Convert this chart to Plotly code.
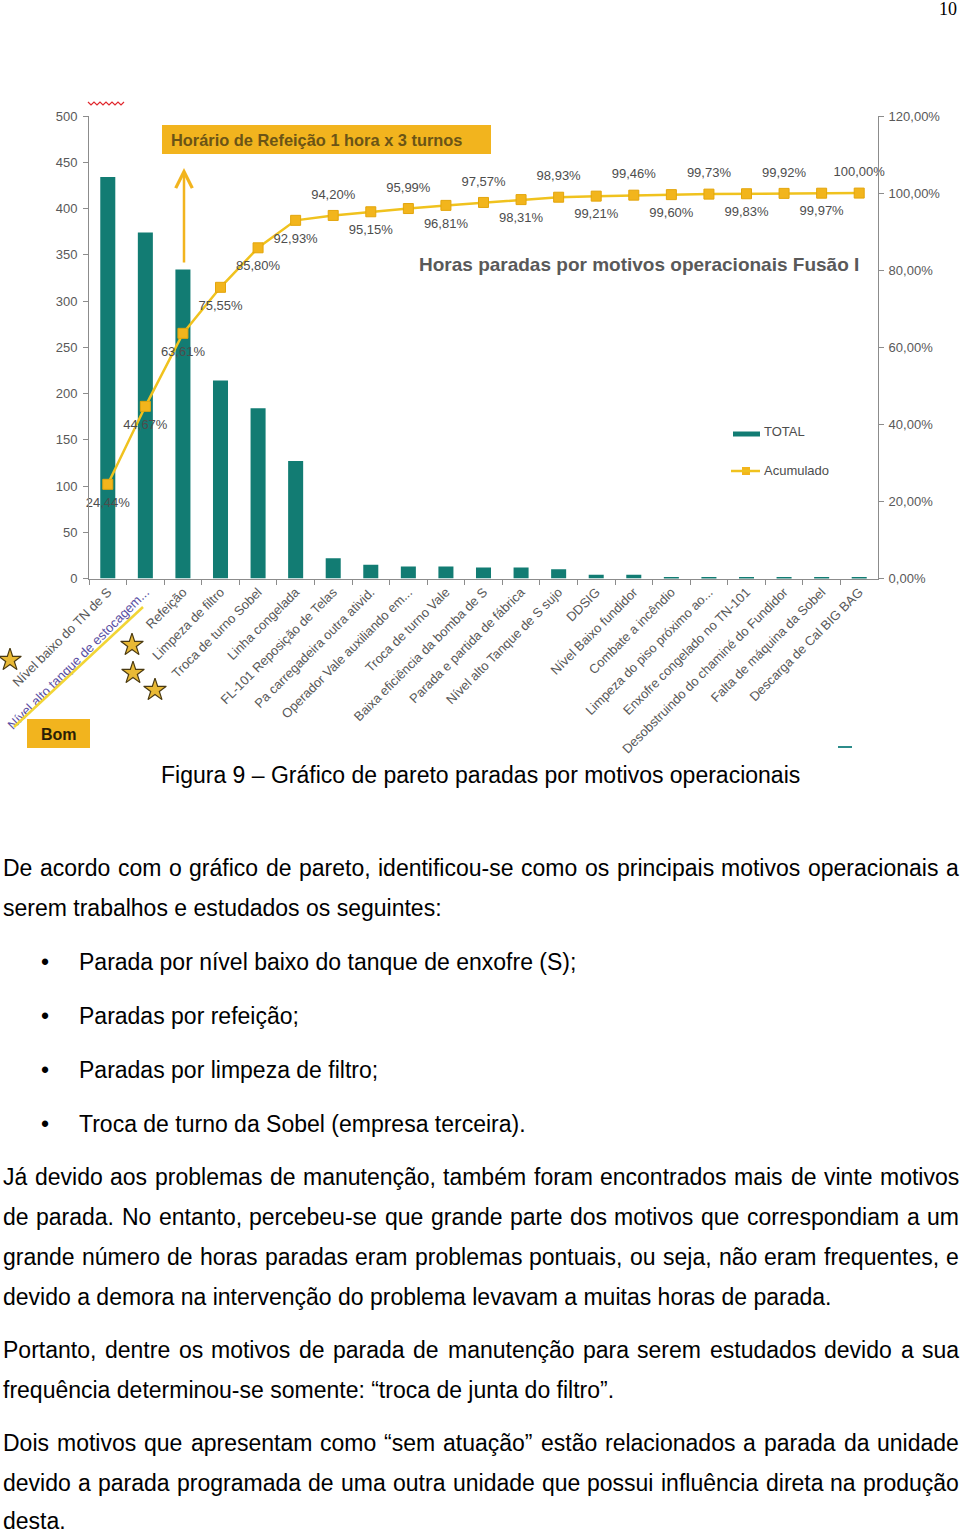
import plotly.graph_objects as go

# ---------------- data ----------------
categories = [
    "Nível baixo do TN de S", "Nível alto tanque de estocagem...", "Refeição",
    "Limpeza de filtro", "Troca de turno Sobel", "Linha congelada",
    "FL-101 Reposição de Telas", "Pa carregadeira outra ativid.",
    "Operador Vale auxiliando em...", "Troca de turno Vale",
    "Baixa eficiência da bomba de S", "Parada e partida de fábrica",
    "Nível alto Tanque de S sujo", "DDSIG", "Nível Baixo fundidor",
    "Combate a incêndio", "Limpeza do piso próximo ao...",
    "Enxofre congelado no TN-101", "Desobstruindo do chaminé do Fundidor",
    "Falta de máquina da Sobel", "Descarga de Cal BIG BAG",
]
total_hours = [434, 374, 334, 214, 184, 127, 22, 15, 13, 13, 12, 12, 10,
               4, 4, 1.2, 1.2, 1.2, 1.2, 1.2, 1.2]
accum_pct = [24.44, 44.67, 63.61, 75.55, 85.80, 92.93, 94.20, 95.15, 95.99,
             96.81, 97.57, 98.31, 98.93, 99.21, 99.46, 99.60, 99.73, 99.83,
             99.92, 99.97, 100.00]
accum_labels = ["24,44%", "44,67%", "63,61%", "75,55%", "85,80%", "92,93%",
                "94,20%", "95,15%", "95,99%", "96,81%", "97,57%", "98,31%",
                "98,93%", "99,21%", "99,46%", "99,60%", "99,73%", "99,83%",
                "99,92%", "99,97%", "100,00%"]
left_ticks = [0, 50, 100, 150, 200, 250, 300, 350, 400, 450, 500]
right_ticks = [0, 0.2, 0.4, 0.6, 0.8, 1.0, 1.2]

chart_title = "Horas paradas por motivos operacionais Fusão I"
callout_text = "Horário de Refeição 1 hora x 3 turnos"
legend_names = ["TOTAL", "Acumulado"]
caption = "Figura 9 – Gráfico de pareto paradas por motivos operacionais"
page_number = "10"

# body text: (text, justified, bullet)
body_lines = [
    ("De acordo com o gráfico de pareto, identificou-se como os principais motivos operacionais  a", True, False),
    ("serem trabalhos e estudados os seguintes:", False, False),
    ("Parada por nível baixo do tanque de enxofre (S);", False, True),
    ("Paradas por refeição;", False, True),
    ("Paradas por limpeza de filtro;", False, True),
    ("Troca de turno da Sobel (empresa terceira).", False, True),
    ("Já devido aos problemas de manutenção, também foram encontrados mais de vinte motivos", True, False),
    ("de parada. No entanto, percebeu-se que grande parte dos motivos que correspondiam a um", True, False),
    ("grande número de horas paradas eram problemas pontuais, ou seja, não eram frequentes, e", True, False),
    ("devido a demora na intervenção do problema levavam a muitas horas de parada.", False, False),
    ("Portanto, dentre os motivos de parada de manutenção para serem estudados devido a sua", True, False),
    ("frequência determinou-se somente: “troca de junta do filtro”.", False, False),
    ("Dois motivos que apresentam como “sem atuação” estão relacionados a parada da unidade", True, False),
    ("devido a parada programada de uma outra unidade que possui influência direta na produção", True, False),
    ("desta.", False, False),
]
body_y = [868, 908, 962, 1016, 1070, 1124, 1177, 1217, 1257, 1297,
          1350, 1390, 1443, 1483, 1521]

# ---------------- page geometry ----------------
PW, PH = 960, 1534
PX0, PX1 = 89, 878
PY_TOP, PY_BOT = 116, 578.5

TEAL = "#127C73"
GOLD = "#F2B51C"
LINE_Y = "#F0C21E"
GREY = "#595959"
FONT = "Liberation Sans, Arial, sans-serif"

def px(x):
    return x / PW

def py(y):
    return 1 - y / PH

# Arial / Liberation Sans advance widths (1/1000 em)
AW = {' ': 278, '!': 278, '"': 355, '%': 889, '(': 333, ')': 333, ',': 278,
      '-': 333, '.': 278, ':': 278, ';': 278, '•': 350, '–': 556, '“': 333, '”': 333}
for c in "0123456789":
    AW[c] = 556
low = dict(a=556, b=556, c=500, d=556, e=556, f=278, g=556, h=556, i=222, j=222,
           k=500, l=222, m=833, n=556, o=556, p=556, q=556, r=333, s=500, t=278,
           u=556, v=500, w=722, x=500, y=500, z=500)
up = dict(A=667, B=667, C=722, D=722, E=667, F=611, G=778, H=722, I=278, J=500,
          K=667, L=556, M=833, N=722, O=778, P=667, Q=778, R=722, S=667, T=611,
          U=722, V=667, W=944, X=667, Y=667, Z=611)
AW.update(low)
AW.update(up)
for c in "áàâãéêóôõúü":
    AW[c] = 556
AW['í'] = 278
AW['ç'] = 500

def tw(s, size):
    return sum(AW.get(ch, 556) for ch in s) * size / 1000.0

fig = go.Figure()

fig.add_trace(go.Bar(
    x=categories, y=total_hours, marker=dict(color=TEAL, line=dict(width=0)),
    width=0.4, name=legend_names[0], showlegend=False, xaxis="x", yaxis="y",
    hoverinfo="skip",
))

fig.add_trace(go.Scatter(
    x=categories, y=[v / 100 for v in accum_pct], mode="lines+markers",
    line=dict(color=LINE_Y, width=2.5),
    marker=dict(symbol="square", size=10, color=GOLD, line=dict(color="#E3A50C", width=1)),
    name=legend_names[1], showlegend=False, xaxis="x", yaxis="y2",
    cliponaxis=False, hoverinfo="skip",
))

# data labels: alternating below / above the points (offset in pixels -> y2 units)
Y2_PER_PX = 1.2 / (PY_BOT - PY_TOP)
below = [True] * 6 + [i % 2 == 1 for i in range(15)]
label_y = [v / 100 + (-19 if b else 20) * Y2_PER_PX for v, b in zip(accum_pct, below)]
fig.add_trace(go.Scatter(
    x=categories, y=label_y, mode="text", text=accum_labels,
    textposition="middle center",
    textfont=dict(family=FONT, size=13, color="#4d4d4d"),
    showlegend=False, xaxis="x", yaxis="y2", cliponaxis=False, hoverinfo="skip",
))

star_x = [10, 132, 133, 155]
star_y = [660, 645, 673, 690]
fig.add_trace(go.Scatter(
    x=star_x, y=star_y, mode="markers", xaxis="x3", yaxis="y3",
    marker=dict(symbol="star", size=17, color="#E9B935", line=dict(color="#4A3A12", width=1.2)),
    showlegend=False, hoverinfo="skip", cliponaxis=False,
))
fig.add_trace(go.Scatter(
    x=[746], y=[471], mode="markers", xaxis="x3", yaxis="y3",
    marker=dict(symbol="square", size=8, color=GOLD),
    showlegend=False, hoverinfo="skip", cliponaxis=False,
))

shapes = []
shapes.append(dict(type="rect", xref="x3", yref="y3", x0=162, x1=491, y0=125, y1=154,
                   fillcolor="#F2B41E", line=dict(width=0), layer="below"))
shapes.append(dict(type="rect", xref="x3", yref="y3", x0=27, x1=90, y0=719, y1=748,
                   fillcolor="#F2B41E", line=dict(width=0)))
shapes.append(dict(type="line", xref="x3", yref="y3", x0=14, y0=727, x1=143, y1=607,
                   line=dict(color="#F2D535", width=2.5)))
shapes.append(dict(type="line", xref="x3", yref="y3", x0=733, x1=760, y0=434, y1=434,
                   line=dict(color=TEAL, width=5)))
shapes.append(dict(type="line", xref="x3", yref="y3", x0=731, x1=760, y0=471, y1=471,
                   line=dict(color=LINE_Y, width=2.5)))
pts = []
for i, xx in enumerate(range(88, 126, 3)):
    pts.append(f"{xx},{103 + (2 if i % 2 else -1)}")
shapes.append(dict(type="path", xref="x3", yref="y3", path="M" + " L".join(pts),
                   line=dict(color="#E0282E", width=1.2)))
shapes.append(dict(type="line", xref="x3", yref="y3", x0=838, x1=852, y0=747, y1=747,
                   line=dict(color="#2C8C8A", width=2)))

annotations = []
annotations.append(dict(xref="x3", yref="y3", x=184, y=168, ax=184, ay=264,
                        axref="x3", ayref="y3", text="", showarrow=True,
                        arrowhead=5, arrowsize=1.3, arrowwidth=2.5, arrowcolor="#F2B41E"))
annotations.append(dict(xref="paper", yref="paper", x=px(170), y=py(140), xanchor="left",
                        yanchor="middle", text="<b>" + callout_text + "</b>", showarrow=False,
                        font=dict(family=FONT, size=16.4, color="#6B5416"), borderpad=0))
annotations.append(dict(xref="paper", yref="paper", x=px(58.5), y=py(734), xanchor="center",
                        yanchor="middle", text="<b>Bom</b>", showarrow=False,
                        font=dict(family=FONT, size=16, color="#2B1E05"), borderpad=0))
annotations.append(dict(xref="paper", yref="paper", x=px(418), y=py(265), xanchor="left",
                        yanchor="middle", text="<b>" + chart_title + "</b>", showarrow=False,
                        font=dict(family=FONT, size=19, color=GREY), borderpad=0))
annotations.append(dict(xref="paper", yref="paper", x=px(763), y=py(432), xanchor="left",
                        yanchor="middle", text=legend_names[0], showarrow=False,
                        font=dict(family=FONT, size=13, color="#4d4d4d"), borderpad=0))
annotations.append(dict(xref="paper", yref="paper", x=px(763), y=py(471), xanchor="left",
                        yanchor="middle", text=legend_names[1], showarrow=False,
                        font=dict(family=FONT, size=13, color="#4d4d4d"), borderpad=0))
annotations.append(dict(xref="paper", yref="paper", x=px(958), y=py(9), xanchor="right",
                        yanchor="middle", text=page_number, showarrow=False,
                        font=dict(family="Liberation Serif, Times New Roman, serif", size=18,
                                  color="#000"), borderpad=0))
BODY = 23
annotations.append(dict(xref="paper", yref="paper", x=px(480), y=py(775), xanchor="center",
                        yanchor="middle", text=caption, showarrow=False,
                        font=dict(family=FONT, size=BODY, color="#000"), borderpad=0))

LEFT, RIGHT = 2, 958
for (line, just, bullet), yy in zip(body_lines, body_y):
    if bullet:
        annotations.append(dict(xref="paper", yref="paper", x=px(45), y=py(yy),
                                xanchor="center", yanchor="middle", text="•", showarrow=False,
                                font=dict(family=FONT, size=BODY, color="#000"), borderpad=0))
        annotations.append(dict(xref="paper", yref="paper", x=px(78), y=py(yy),
                                xanchor="left", yanchor="middle", text=line, showarrow=False,
                                font=dict(family=FONT, size=BODY, color="#000"), borderpad=0))
    elif not just:
        annotations.append(dict(xref="paper", yref="paper", x=px(LEFT), y=py(yy),
                                xanchor="left", yanchor="middle", text=line, showarrow=False,
                                font=dict(family=FONT, size=BODY, color="#000"), borderpad=0))
    else:
        words = line.split()
        wsum = sum(tw(w, BODY) for w in words)
        gap = (RIGHT - LEFT - wsum) / (len(words) - 1)
        xx = LEFT
        for w in words:
            annotations.append(dict(xref="paper", yref="paper", x=px(xx), y=py(yy),
                                    xanchor="left", yanchor="middle", text=w, showarrow=False,
                                    font=dict(family=FONT, size=BODY, color="#000"), borderpad=0))
            xx += tw(w, BODY) + gap

ticktext = list(categories)
ticktext[1] = "<span style='color:#5A4FA3'>" + categories[1] + "</span>"

axis_common = dict(showgrid=False, zeroline=False, showline=True, linecolor="#8c8c8c",
                   linewidth=1, ticks="outside", ticklen=5, tickcolor="#8c8c8c",
                   automargin=False,
                   tickfont=dict(family=FONT, size=13, color=GREY))

fig.update_layout(
    width=PW, height=PH, margin=dict(l=0, r=0, t=0, b=0, autoexpand=False),
    paper_bgcolor="white", plot_bgcolor="rgba(0,0,0,0)",
    separators=",.", showlegend=False, bargap=0.6,
    font=dict(family=FONT),
    xaxis=dict(domain=[px(PX0), px(PX1)], anchor="y", type="category",
               categoryorder="array", categoryarray=categories,
               tickmode="array", tickvals=categories, ticktext=ticktext,
               tickson="boundaries", tickangle=-45, range=[-0.5, 20.5], **axis_common),
    yaxis=dict(domain=[py(PY_BOT), py(PY_TOP)], anchor="x", range=[0, 500],
               tickvals=left_ticks, ticklabelstandoff=3, **axis_common),
    yaxis2=dict(overlaying="y", anchor="x", side="right", range=[0, 1.2],
                tickvals=right_ticks, tickformat=".2%", ticklabelstandoff=2, **axis_common),
    xaxis3=dict(domain=[0, 1], anchor="y3", range=[0, PW], visible=False,
                fixedrange=True, automargin=False),
    yaxis3=dict(domain=[0, 1], anchor="x3", range=[PH, 0], visible=False,
                fixedrange=True, automargin=False),
    shapes=shapes, annotations=annotations,
)

fig.write_html(
    "out.html",
    config={"displayModeBar": False},
    post_script="document.body.style.margin='0';document.body.style.overflow='hidden';",
)
